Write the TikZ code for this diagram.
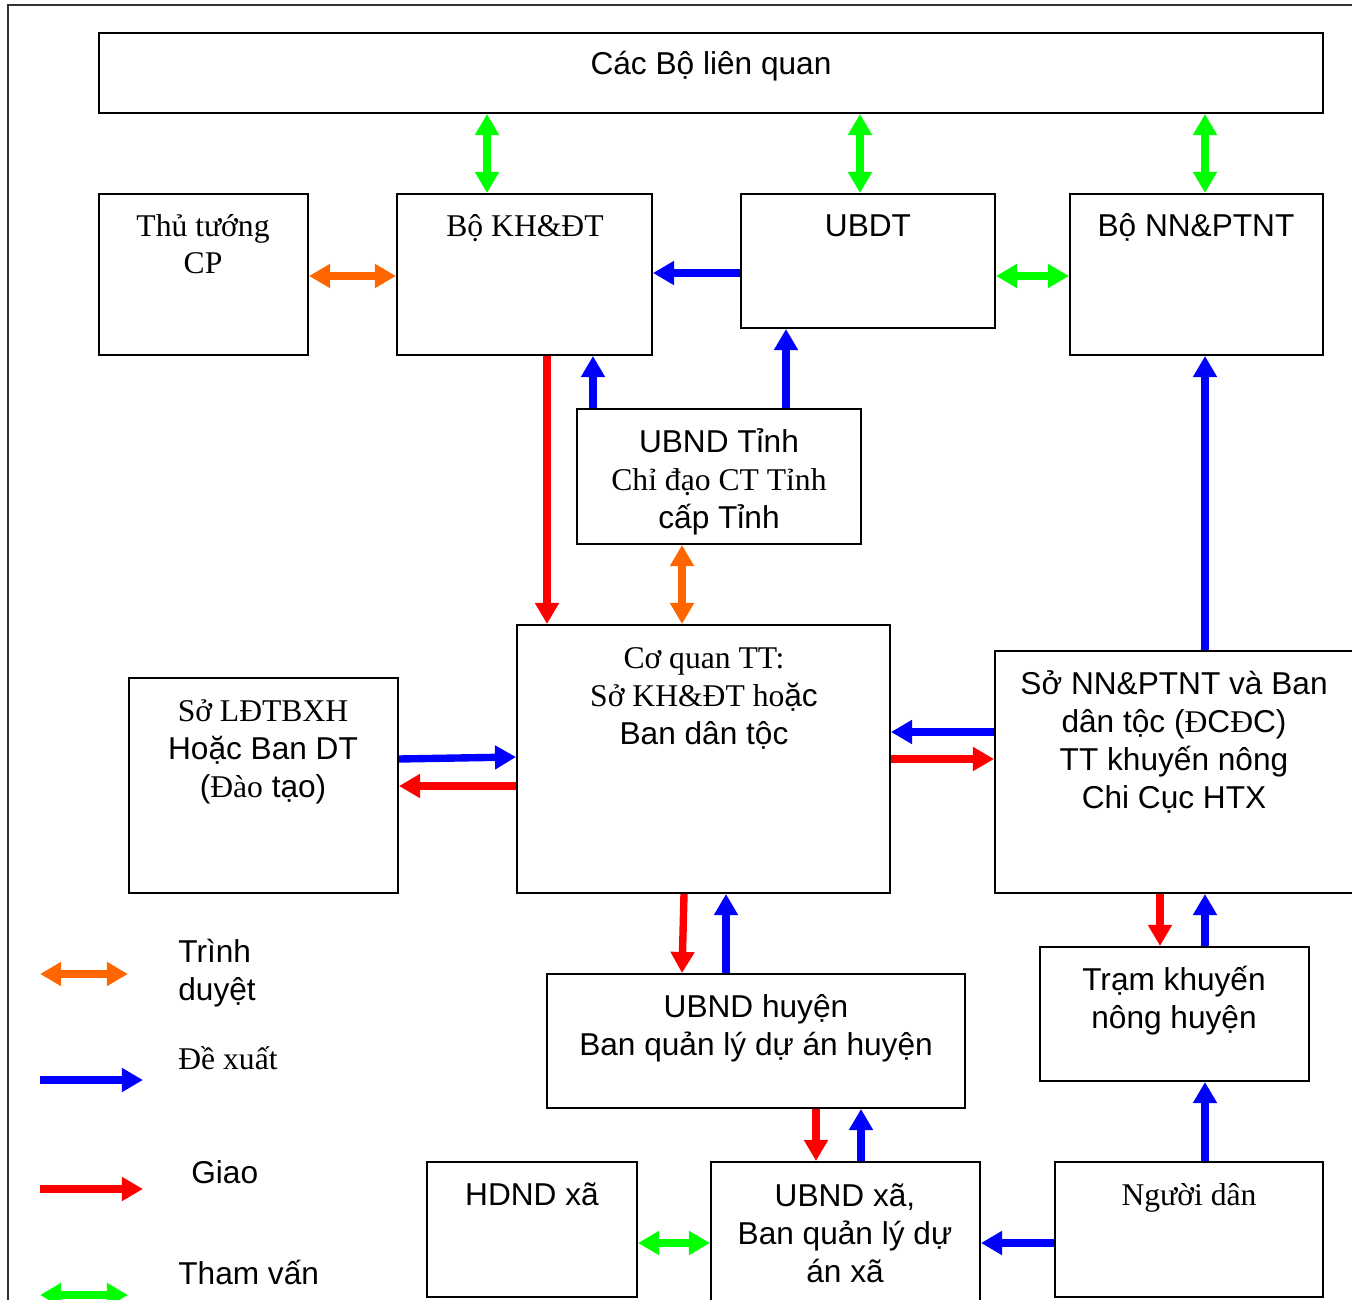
\documentclass[tikz,border=0pt]{standalone}
\usepackage{fontspec}
\setmainfont{Liberation Sans}
\newfontfamily\tnr{Liberation Serif}
\usetikzlibrary{arrows.meta,fit}
\definecolor{corange}{HTML}{FF6600}
\definecolor{cblue}{HTML}{0000FF}
\definecolor{cred}{HTML}{FF0000}
\definecolor{cgreen}{HTML}{00FF00}
\begin{document}
\begin{tikzpicture}[x=0.02cm,y=-0.02cm,
 box/.style={draw, line width=1.1pt, inner sep=0pt, rectangle},
 txt/.style={font=\fontsize{18}{21.5}\selectfont, align=center, anchor=base, inner sep=0pt},
 ltxt/.style={font=\fontsize{18}{21.5}\selectfont, align=left, anchor=base west, inner sep=0pt},
 arr/.style={line width=4.2pt, -{Triangle[width=13pt,length=12pt]}},
 darr/.style={line width=4.2pt, {Triangle[width=13pt,length=12pt]}-{Triangle[width=13pt,length=12pt]}},
]
\useasboundingbox (0,0) rectangle (1352,1300);
\clip (0,0) rectangle (1352,1300);
\draw[line width=1.2pt, black!80] (8,5) rectangle (1420,1420);

% boxes
\node[box, fit={(99,33) (1323,113)}] (cac) {};
\node[box, fit={(99,194) (308,355)}] (ttg) {};
\node[box, fit={(397,194) (652,355)}] (kh) {};
\node[box, fit={(741,194) (995,328)}] (ubdt) {};
\node[box, fit={(1070,194) (1323,355)}] (nn) {};
\node[box, fit={(577,409) (861,544)}] (tinh) {};
\node[box, fit={(517,625) (890,893)}] (cq) {};
\node[box, fit={(129,678) (398,893)}] (ld) {};
\node[box, fit={(995,651) (1358,893)}] (so) {};
\node[box, fit={(1040,947) (1309,1081)}] (tram) {};
\node[box, fit={(547,974) (965,1108)}] (huyen) {};
\node[box, fit={(427,1162) (637,1297)}] (hd) {};
\node[box, fit={(711,1162) (980,1306)}] (xa) {};
\node[box, fit={(1055,1162) (1323,1297)}] (dan) {};

% texts (anchor = baseline of the last line)
\node[txt] (tcac) at (711,75) {Các Bộ liên quan};
\node[txt] (tttg) at (203,274) {\tnr Thủ tướng\\\tnr CP};
\node[txt] (tkh) at (525,237) {\tnr Bộ KH\&ĐT};
\node[txt] (tubdt) at (868,237) {UBDT};
\node[txt] (tnn) at (1196,237) {Bộ NN\&PTNT};
\node[txt] (ttinh) at (719,528) {UBND Tỉnh\\\tnr Chỉ đạo CT Tỉnh\\cấp Tỉnh};
\node[txt] (tcq) at (704,744) {\tnr Cơ quan TT:\\{\tnr Sở KH\&ĐT ho}ặc\\Ban dân tộc};
\node[txt] (tld) at (263,797) {\tnr Sở LĐTBXH\\Hoặc Ban DT\\({\tnr Đào} tạo)};
\node[txt] (tso) at (1174,808) {Sở NN\&PTNT và Ban\\dân tộc ({\tnr Đ}C{\tnr Đ}C)\\TT khuyến nông\\Chi Cục HTX};
\node[txt] (ttram) at (1174,1028) {Trạm khuyến\\nông huyện};
\node[txt] (thuyen) at (756,1055) {UBND huyện\\Ban quản lý dự án huyện};
\node[txt] (thd) at (532,1205) {HDND xã};
\node[txt] (txa) at (845,1282) {UBND xã,\\Ban quản lý dự\\án xã};
\node[txt] (tdan) at (1189,1205) {\tnr Người dân};

% connectors
\draw[darr, cgreen] (cac.south -| 487,0) -- (kh.north -| 487,0);
\draw[darr, cgreen] (cac.south -| 860,0) -- (ubdt.north -| 860,0);
\draw[darr, cgreen] (cac.south -| 1205,0) -- (nn.north -| 1205,0);
\draw[darr, corange] (ttg.east |- 0,276) -- (kh.west |- 0,276);
\draw[arr, cblue] (ubdt.west |- 0,273) -- (kh.east |- 0,273);
\draw[darr, cgreen] (ubdt.east |- 0,276) -- (nn.west |- 0,276);
\draw[arr, cred] (kh.south -| 547,0) -- (cq.north -| 547,0);
\draw[arr, cblue] (tinh.north -| 593,0) -- (kh.south -| 593,0);
\draw[arr, cblue] (tinh.north -| 786,0) -- (ubdt.south -| 786,0);
\draw[darr, corange] (tinh.south -| 682,0) -- (cq.north -| 682,0);
\draw[arr, cblue] (so.north -| 1205,0) -- (nn.south -| 1205,0);
\draw[arr, cblue] (ld.east |- 0,759) -- (cq.west |- 0,757);
\draw[arr, cred] (cq.west |- 0,786) -- (ld.east |- 0,786);
\draw[arr, cblue] (so.west |- 0,732) -- (cq.east |- 0,732);
\draw[arr, cred] (cq.east |- 0,759) -- (so.west |- 0,759);
\draw[arr, cred] (cq.south -| 684,0) -- (huyen.north -| 682,0);
\draw[arr, cblue] (huyen.north -| 726,0) -- (cq.south -| 726,0);
\draw[arr, cred] (so.south -| 1160,0) -- (tram.north -| 1160,0);
\draw[arr, cblue] (tram.north -| 1205,0) -- (so.south -| 1205,0);
\draw[arr, cred] (huyen.south -| 816,0) -- (xa.north -| 816,0);
\draw[arr, cblue] (xa.north -| 861,0) -- (huyen.south -| 861,0);
\draw[arr, cblue] (dan.north -| 1205,0) -- (tram.south -| 1205,0);
\draw[darr, cgreen] (hd.east |- 0,1243) -- (xa.west |- 0,1243);
\draw[arr, cblue] (dan.west |- 0,1243) -- (xa.east |- 0,1243);

% legend
\coordinate (la1) at (40,974); \coordinate (lb1) at (128,974);
\coordinate (la2) at (40,1080); \coordinate (lb2) at (143,1080);
\coordinate (la3) at (40,1189); \coordinate (lb3) at (143,1189);
\coordinate (la4) at (40,1295); \coordinate (lb4) at (128,1295);
\draw[darr, corange] (la1) -- (lb1);
\draw[arr, cblue] (la2) -- (lb2);
\draw[arr, cred] (la3) -- (lb3);
\draw[darr, cgreen] (la4) -- (lb4);
\node[ltxt] (l1) at (178,1000) {Trình\\duyệt};
\node[ltxt] (l2) at (178,1069) {\tnr Đề xuất};
\node[ltxt] (l3) at (191,1183) {Giao};
\node[ltxt] (l4) at (178,1284) {Tham vấn};
\end{tikzpicture}
\end{document}
